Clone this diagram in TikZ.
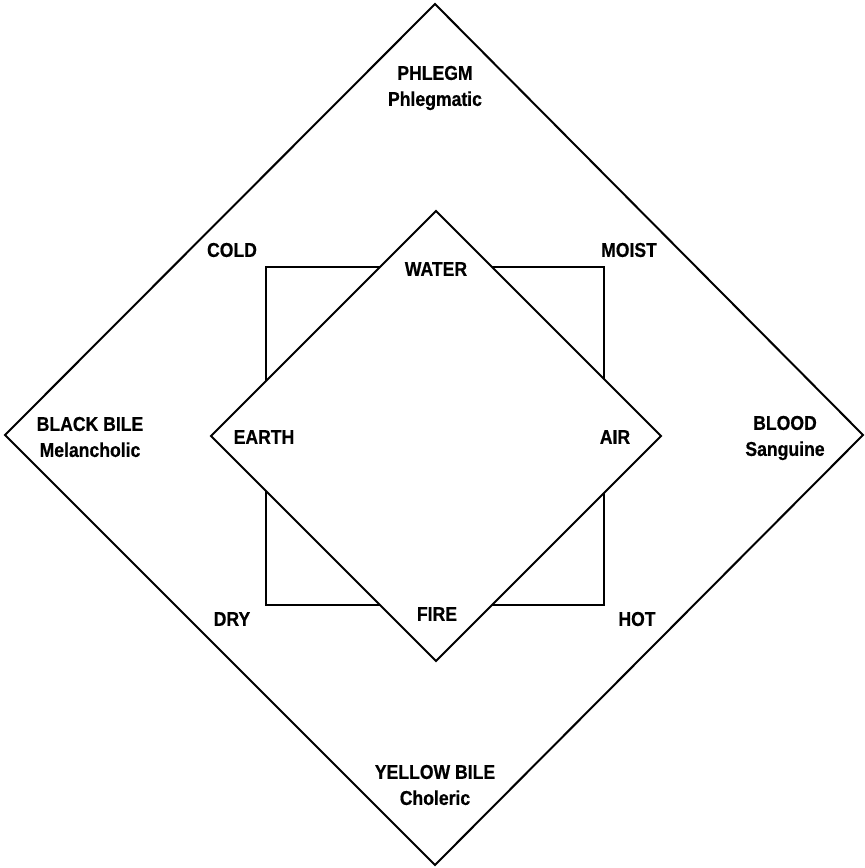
\documentclass[tikz,border=0pt]{standalone}
\usepackage{fontspec}
\newfontfamily\humfont[FakeStretch=0.88, FakeBold=0.6]{Liberation Sans}
\usepackage{tikz}
\usetikzlibrary{positioning}

\begin{document}
\begin{tikzpicture}[x=1pt, y=-1pt,
  every node/.style={font=\humfont\bfseries\fontsize{20}{26}\selectfont, align=center, inner sep=0pt},
  edge/.style={draw=black, line width=2pt, line join=miter},
  lbl/.style={}
]
\useasboundingbox (0,0) rectangle (865,868);

%% Outer diamond (humours)
\coordinate (ot) at (435,4);
\coordinate (or) at (863,435);
\coordinate (ob) at (435,865);
\coordinate (ol) at (5,435);
\draw[edge] (ot) -- (or) -- (ob) -- (ol) -- cycle;

%% Square (qualities)
\coordinate (sa) at (266,267);
\coordinate (sb) at (604,605);
\draw[edge] (sa) rectangle (sb);

%% Inner diamond (elements)
\coordinate (it) at (436,211);
\coordinate (ir) at (661,436);
\coordinate (ib) at (436,661);
\coordinate (il) at (211,436);
\filldraw[edge, fill=white] (it) -- (ir) -- (ib) -- (il) -- cycle;

%% Humours
\node[lbl] (phlegm) at (435,88)  {PHLEGM\\Phlegmatic};
\node[lbl] (black)  at (90,437)  {BLACK BILE\\Melancholic};
\node[lbl] (blood)  at (785,438) {BLOOD\\Sanguine};
\node[lbl] (yellow) at (435,785) {YELLOW BILE\\Choleric};

%% Qualities
\node[lbl] (cold)  at (232,250) {COLD};
\node[lbl] (moist) at (629,250) {MOIST};
\node[lbl] (dry)   at (232,619) {DRY};
\node[lbl] (hot)   at (637,619) {HOT};

%% Elements
\node[lbl] (water) at (436,269) {WATER};
\node[lbl] (earth) at (264,437) {EARTH};
\node[lbl] (air)   at (615,437) {AIR};
\node[lbl] (fire)  at (437,614) {FIRE};
\end{tikzpicture}
\end{document}
